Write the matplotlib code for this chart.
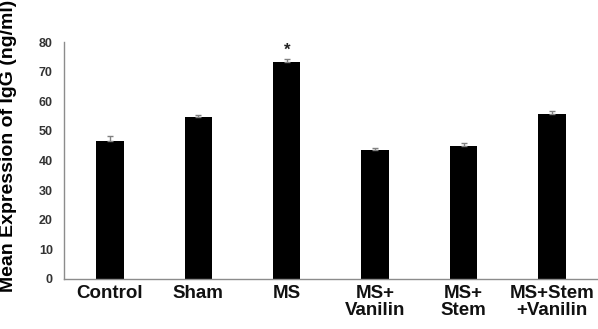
import matplotlib.pyplot as plt
import numpy as np

plt.rcParams['font.family'] = ['Liberation Sans', 'DejaVu Sans']

# Data ---------------------------------------------------
groups = ['Control', 'Sham', 'MS', 'MS+\nVanilin', 'MS+\nStem', 'MS+Stem\n+Vanilin']
means = [46.6, 54.6, 73.2, 43.4, 45.0, 55.6]
errors = [1.7, 0.9, 1.0, 0.9, 0.8, 1.2]
significant = [False, False, True, False, False, False]
y_ticks = [0, 10, 20, 30, 40, 50, 60, 70, 80]

# Plot ---------------------------------------------------
fig = plt.figure(figsize=(5.98, 3.29), dpi=100)
ax = fig.add_axes([0.107, 0.152, 0.893, 0.72])

x = np.arange(len(groups))
ax.bar(x, means, width=0.31, color='black', zorder=2)
ax.errorbar(x, means, yerr=[np.zeros(len(errors)), errors], fmt='none',
            ecolor='#808080', elinewidth=1, capsize=2.5, capthick=1, zorder=3)

for xi, m, e, s in zip(x, means, errors, significant):
    if s:
        ax.text(xi, m + e + 0.4, '*', ha='center', va='bottom',
                fontsize=12, fontweight='bold', color='#222222')

ax.set_xlim(-0.52, 5.52)
ax.set_ylim(0, 80)
ax.set_yticks(y_ticks)
ax.set_yticklabels([str(t) for t in y_ticks], fontsize=9, fontweight='bold', color='#333333')
ax.set_xticks(x)
ax.set_xticklabels(groups, fontsize=13.5, fontweight='bold', color='#111111', linespacing=1.05)
ax.tick_params(axis='both', length=0)
ax.tick_params(axis='y', pad=8)
ax.tick_params(axis='x', pad=4)

ax.set_ylabel('Mean Expression of IgG (ng/ml)', fontsize=14, fontweight='bold')
ax.yaxis.set_label_coords(-0.088, 0.56)

for side in ['top', 'right']:
    ax.spines[side].set_visible(False)
for side in ['left', 'bottom']:
    ax.spines[side].set_color('#8c8c8c')
    ax.spines[side].set_linewidth(1)

fig.savefig('out.png', dpi=100)
